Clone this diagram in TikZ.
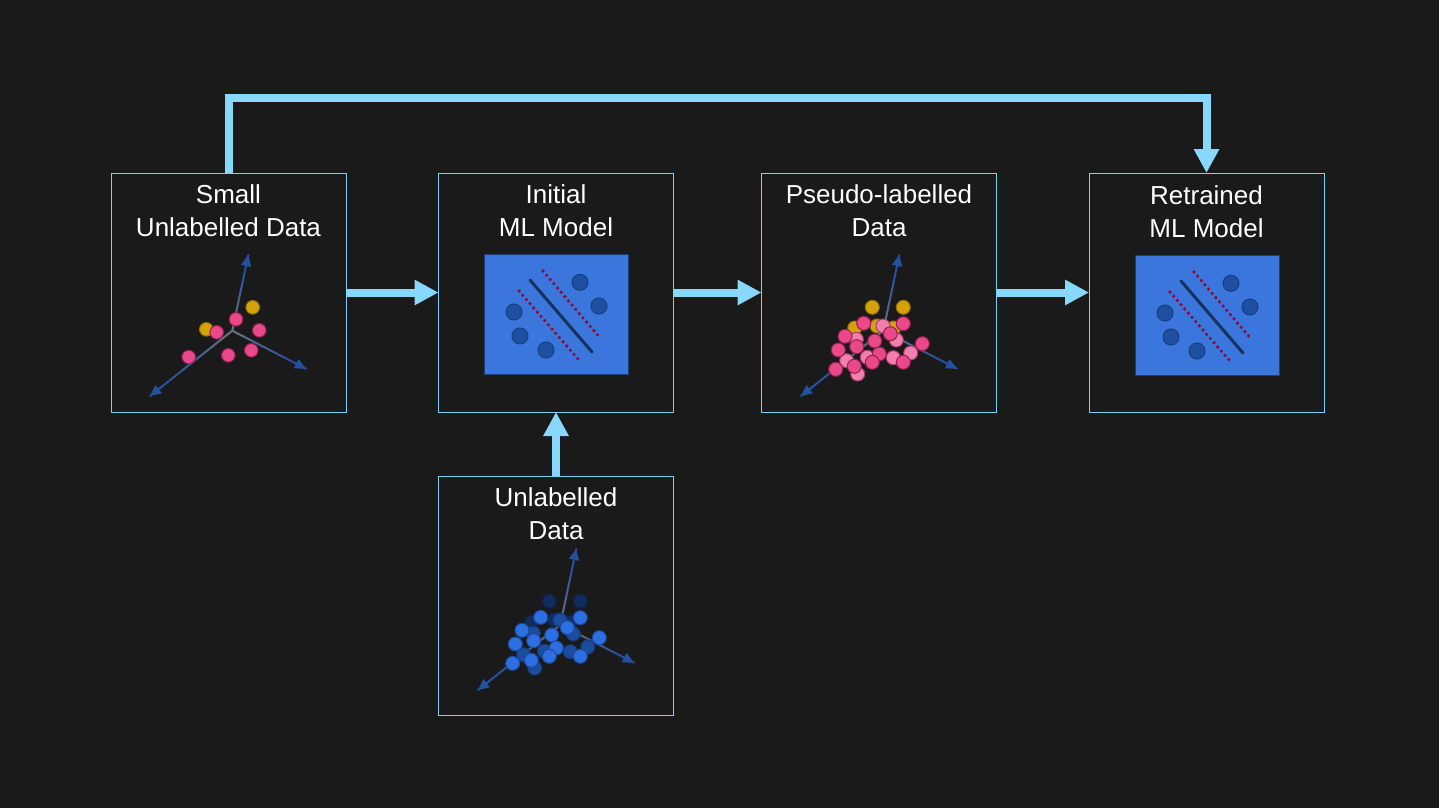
\documentclass[tikz,border=0pt]{standalone}
\usepackage{fontspec}
\setmainfont{Liberation Sans}
\usetikzlibrary{arrows.meta,calc}
\definecolor{bg}{RGB}{26,26,26}
\definecolor{boxline}{RGB}{128,208,245}
\definecolor{arrowc}{RGB}{136,215,252}
\definecolor{panelfill}{RGB}{58,118,220}
\definecolor{panelline}{RGB}{28,60,128}
\definecolor{pdot}{RGB}{31,79,160}
\definecolor{pdotline}{RGB}{22,62,128}
\definecolor{sepline}{RGB}{22,50,95}
\definecolor{marginred}{RGB}{140,10,55}
\definecolor{axgray}{RGB}{105,112,125}
\definecolor{axblue}{RGB}{36,80,160}
\definecolor{pinkf}{RGB}{233,73,138}
\definecolor{pinkd}{RGB}{150,30,80}
\definecolor{lpinkf}{RGB}{242,128,174}
\definecolor{lpinkd}{RGB}{175,60,105}
\definecolor{yelf}{RGB}{212,162,10}
\definecolor{yeld}{RGB}{150,112,0}
\definecolor{bbf}{RGB}{45,111,224}
\definecolor{bbd}{RGB}{28,72,160}
\definecolor{mbf}{RGB}{28,76,156}
\definecolor{mbd}{RGB}{20,58,122}
\definecolor{nbf}{RGB}{15,44,92}
\definecolor{nbd}{RGB}{11,34,72}
\newcommand\drawaxesseg[2]{%
  \foreach \i in {0,...,11}{%
    \pgfmathsetmacro\pa{\i/12}%
    \pgfmathsetmacro\pb{(\i+1)/12}%
    \pgfmathtruncatemacro\pc{min(100,\i*11)}%
    \draw[axisseg, color=axblue!\pc!axgray] ($#1!\pa!#2$) -- ($#1!\pb!#2$);
  }%
  \draw[axisseg, axblue, -{Triangle[length=11pt,width=10pt]}] ($#1!0.85!#2$) -- #2;
}
\newcommand\drawaxesall{%
  \coordinate (ao) at (121.3,157.7);
  \coordinate (au) at (137.3,82);
  \coordinate (ar) at (195,195.7);
  \coordinate (al) at (39,223);
  \drawaxesseg{(ao)}{(au)}
  \drawaxesseg{(ao)}{(ar)}
  \drawaxesseg{(ao)}{(al)}
}
\def\ylist{110.3/134.3, 141.3/134.3, 92.7/155, 115/153, 131.7/155}
\def\llist{121/153, 94.3/166.3, 134.3/167, 84.7/187.7, 95.7/201, 105.3/184.3, 131.3/184.7, 148.7/180}
\def\dlist{101.7/150.3, 141.3/150.7, 83/163.3, 76.3/177, 73.7/196.3, 160.3/170.7, 112.7/168, 94.7/173.7, 128.3/160.7, 117.3/181, 110.3/189.3, 92.3/193.3, 141.3/189.3}
\newcommand\drawpanel{%
  \draw[sepline, line width=3pt, line cap=round] (46,26) -- (108,98);
  \draw[marginline] (59,17) -- (117,85);
  \draw[marginline] (35,37) -- (94,105);
  \foreach \x/\y in {96/28.3, 115/52, 30/58, 36/82, 62/96}
    \filldraw[fill=pdot, draw=pdotline, line width=1pt] (\x,\y) circle[radius=8pt];
}
\begin{document}
\begin{tikzpicture}[x=1pt,y=-1pt,
  stagebox/.style={draw=boxline, line width=1pt, fill=bg, minimum width=235pt, minimum height=239pt, inner sep=0pt, outer sep=0pt},
  panelbox/.style={draw=panelline, line width=1pt, fill=panelfill, minimum width=144pt, minimum height=120pt, inner sep=0pt, outer sep=0pt},
  titletext/.style={text=white, font=\fontsize{26}{32}\selectfont, anchor=base, inner sep=0pt},
  flow/.style={draw=arrowc, line width=8pt, -{Triangle[length=24pt,width=24pt]}},
  axisseg/.style={line width=2pt, line cap=round},
  marginline/.style={marginred, line width=3.6pt, line cap=round, dash pattern=on 0pt off 5.6pt},
  dot/.style={line width=1pt}]
\fill[bg] (0,0) rectangle (1439,808);
\useasboundingbox (0,0) rectangle (1439,808);

% stage boxes
\node[stagebox] (b1) at (228.5,292.5) {};
\node[stagebox] (b2) at (556,292.5) {};
\node[stagebox] (b3) at (879,292.5) {};
\node[stagebox] (b4) at (1206.5,292.5) {};
\node[stagebox] (b5) at (556,595.5) {};

% titles
\node[titletext] (t1a) at (228.5,203) {Small};
\node[titletext] (t1b) at (228.5,236) {Unlabelled Data};
\node[titletext] (t2a) at (556,203) {Initial};
\node[titletext] (t2b) at (556,236) {ML Model};
\node[titletext] (t3a) at (879,203) {Pseudo-labelled};
\node[titletext] (t3b) at (879,236) {Data};
\node[titletext] (t4a) at (1206.5,204) {Retrained};
\node[titletext] (t4b) at (1206.5,237) {ML Model};
\node[titletext] (t5a) at (556,506) {Unlabelled};
\node[titletext] (t5b) at (556,539) {Data};

% model panels
\node[panelbox] (p2) at (556,314) {};
\node[panelbox] (p4) at (1207,315) {};
\begin{scope}[shift={(484,254)}]\drawpanel\end{scope}
\begin{scope}[shift={(1135,255)}]\drawpanel\end{scope}

% box 1 scatter
\begin{scope}[shift={(111,173)}]
  \drawaxesall
  \foreach \x/\y in {141.7/134.3, 95.3/156.3}
    \filldraw[dot, fill=yelf, draw=yeld] (\x,\y) circle[radius=6.8pt];
  \foreach \x/\y in {125/146.3, 105.7/159.3, 148.3/157.3, 77.7/184, 117.3/182.3, 140.3/177.3}
    \filldraw[dot, fill=pinkf, draw=pinkd] (\x,\y) circle[radius=6.8pt];
\end{scope}

% box 3 scatter
\begin{scope}[shift={(762,173)}]
  \drawaxesall
  \foreach \x/\y in \ylist \filldraw[dot, fill=yelf, draw=yeld] (\x,\y) circle[radius=7pt];
  \foreach \x/\y in \llist \filldraw[dot, fill=lpinkf, draw=lpinkd] (\x,\y) circle[radius=7pt];
  \foreach \x/\y in \dlist \filldraw[dot, fill=pinkf, draw=pinkd] (\x,\y) circle[radius=7pt];
\end{scope}

% box 5 scatter
\begin{scope}[shift={(439,467)}]
  \drawaxesall
  \foreach \x/\y in \ylist \filldraw[dot, fill=nbf, draw=nbd] (\x,\y) circle[radius=7pt];
  \foreach \x/\y in \llist \filldraw[dot, fill=mbf, draw=mbd] (\x,\y) circle[radius=7pt];
  \foreach \x/\y in \dlist \filldraw[dot, fill=bbf, draw=bbd] (\x,\y) circle[radius=7pt];
\end{scope}

% connectors
\coordinate (topy) at (0,98);
\draw[flow] (b1.east) -- (b2.west);
\draw[flow] (b2.east) -- (b3.west);
\draw[flow] (b3.east) -- (b4.west);
\draw[flow] (b5.north) -- (b2.south);
\draw[flow] (b1.north) -- (b1.north |- topy) -| (b4.north);
\end{tikzpicture}
\end{document}
